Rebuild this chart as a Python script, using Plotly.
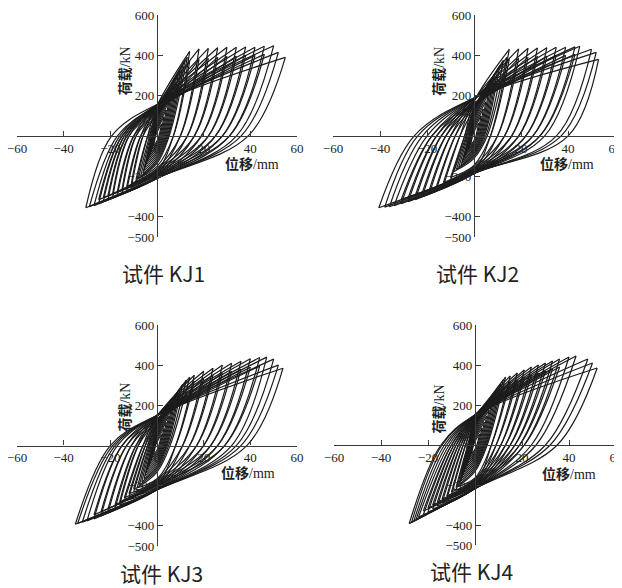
import plotly.graph_objects as go

# ---------------- data ----------------
# per cycle: positive peak (disp, load), negative peak (disp, load),
# zero-load crossings of unloading (rp) / reloading (rn) branches,
# load where reloading (cp) / unloading (cn) branch crosses zero displacement
KJ1_dp = [2, 3, 4, 5, 6, 7, 8, 9, 10, 11, 12, 13,
          14, 14, 18, 18, 22, 22, 26, 26, 30, 30, 34, 34, 38, 38, 42, 42, 46, 46, 50, 52, 55]
KJ1_pp = [60, 95, 130, 165, 200, 235, 265, 295, 325, 350, 375, 390,
          420, 370, 432, 380, 435, 385, 438, 390, 440, 395, 440, 395, 442, 400, 440, 400, 445, 405, 448, 415, 390]
KJ1_dn = [-1.5, -2, -2.5, -3, -3.5, -4, -4.5, -5, -5.5, -6, -7, -8,
          -9, -9, -11, -11, -13, -13, -15, -15, -17, -17, -19, -19, -21, -21, -23, -23, -25, -25, -27, -29, -30.5]
KJ1_pn = [-50, -65, -80, -95, -110, -125, -140, -155, -170, -185, -200, -210,
          -235, -215, -255, -235, -270, -250, -285, -265, -295, -275, -305, -285, -315, -295, -325, -305, -335, -315, -345, -350, -355]
KJ1_rp = [0.8, 1.2, 1.6, 2, 2.4, 2.8, 3.2, 3.6, 4, 4.4, 4.8, 5.2,
          7, 7, 10, 10, 13, 13, 16, 16, 19, 19, 22, 22, 25, 25, 28, 28, 31, 31, 34, 36, 39]
KJ1_rn = [-0.6, -0.8, -1, -1.2, -1.4, -1.6, -1.8, -2, -2.2, -2.4, -2.8, -3.2,
          -4, -4, -6, -6, -7, -7, -9, -9, -10, -10, -12, -12, -13, -13, -14, -14, -15, -15, -16, -17, -19.5]
KJ1_cp = [20, 30, 40, 50, 60, 70, 80, 90, 100, 110, 120, 130,
          150, 100, 150, 105, 148, 110, 150, 115, 155, 120, 152, 125, 155, 130, 152, 135, 155, 140, 155, 150, 157]
KJ1_cn = [-25, -35, -45, -55, -65, -75, -85, -95, -105, -115, -125, -135,
          -175, -150, -185, -160, -195, -165, -200, -170, -205, -175, -205, -180, -208, -185, -210, -190, -210, -195, -210, -208, -207]

KJ2_dp = [2, 3, 4, 5, 6, 7, 8, 9, 10, 11, 12.5, 14,
          15, 15, 19, 19, 23, 23, 27, 27, 31, 31, 35, 35, 39, 39, 43, 43, 45, 50, 52, 53]
KJ2_pp = [65, 100, 135, 170, 205, 240, 270, 300, 325, 350, 375, 390,
          430, 380, 432, 385, 435, 390, 437, 395, 438, 395, 440, 400, 440, 400, 442, 405, 445, 430, 415, 380]
KJ2_dn = [-1.5, -2, -2.5, -3, -3.5, -4, -4.5, -5, -5.5, -6.5, -7.5, -8.5,
          -10, -10, -13, -13, -16, -16, -19, -19, -22, -22, -25, -25, -28, -28, -31, -31, -34, -36, -38, -40.5]
KJ2_pn = [-45, -58, -70, -82, -95, -108, -120, -132, -145, -155, -165, -175,
          -220, -205, -245, -230, -265, -250, -285, -265, -300, -280, -315, -295, -325, -305, -335, -315, -345, -350, -352, -355]
KJ2_rp = [0.8, 1.2, 1.6, 2, 2.4, 2.8, 3.2, 3.6, 4, 4.4, 5, 5.6,
          7, 7, 10, 10, 13, 13, 16, 16, 19, 19, 22, 22, 25, 25, 28, 28, 30, 35, 37, 40]
KJ2_rn = [-0.6, -0.8, -1, -1.2, -1.4, -1.6, -1.8, -2, -2.2, -2.6, -3, -3.4,
          -4, -4, -6, -6, -8, -8, -10, -10, -12, -12, -14, -14, -16, -16, -18, -18, -20, -22, -24, -25.5]
KJ2_cp = [22, 33, 45, 56, 68, 80, 90, 100, 110, 120, 130, 140,
          170, 125, 175, 130, 175, 140, 180, 145, 180, 150, 185, 155, 185, 160, 185, 165, 188, 188, 188, 188]
KJ2_cn = [-22, -30, -38, -46, -54, -62, -70, -78, -86, -94, -102, -110,
          -170, -145, -175, -150, -180, -155, -182, -160, -185, -165, -185, -170, -185, -172, -185, -175, -185, -185, -185, -182]

KJ3_dp = [2, 3, 4, 5, 6, 7, 8, 9, 10, 11, 12.5, 14,
          16, 16, 20, 20, 24, 24, 28, 28, 32, 32, 36, 36, 40, 40, 44, 44, 47, 50, 52, 54]
KJ3_pp = [55, 85, 115, 145, 175, 205, 235, 260, 285, 305, 325, 340,
          350, 320, 370, 335, 385, 350, 400, 360, 410, 370, 420, 380, 432, 390, 438, 395, 440, 430, 400, 385]
KJ3_dn = [-1.5, -2, -2.5, -3, -3.5, -4, -4.5, -5, -5.5, -6.5, -7.5, -8.5,
          -10, -10, -12, -12, -14, -14, -16, -16, -18, -18, -21, -21, -24, -24, -27, -27, -30, -32, -34, -35]
KJ3_pn = [-45, -60, -75, -90, -105, -120, -135, -150, -165, -180, -195, -210,
          -230, -215, -255, -240, -275, -260, -295, -280, -315, -295, -335, -315, -350, -330, -365, -345, -375, -382, -388, -392]
KJ3_rp = [0.8, 1.2, 1.6, 2, 2.4, 2.8, 3.2, 3.6, 4, 4.4, 5, 5.6,
          8, 8, 11, 11, 14, 14, 17, 17, 20, 20, 23, 23, 26, 26, 29, 29, 32, 34, 36, 38.5]
KJ3_rn = [-0.6, -0.8, -1, -1.2, -1.4, -1.6, -1.8, -2, -2.2, -2.6, -3, -3.4,
          -4, -4, -5, -5, -6, -6, -8, -8, -9, -9, -11, -11, -13, -13, -15, -15, -17, -18, -19, -20]
KJ3_cp = [18, 27, 36, 45, 54, 63, 72, 81, 90, 100, 110, 120,
          140, 100, 145, 105, 148, 110, 150, 115, 150, 120, 150, 125, 150, 130, 150, 135, 150, 150, 150, 150]
KJ3_cn = [-22, -32, -42, -52, -62, -72, -82, -92, -102, -112, -122, -132,
          -195, -165, -205, -170, -210, -175, -215, -180, -218, -185, -220, -190, -220, -195, -220, -200, -220, -220, -220, -220]

KJ4_dp = [2, 3, 4, 5, 6, 7, 8, 9, 10, 11, 12, 13,
          15, 15, 18, 18, 21, 21, 24, 24, 27, 27, 30, 30, 33, 33, 36, 36, 40, 43, 48, 50, 52]
KJ4_pp = [55, 85, 115, 145, 175, 205, 235, 260, 285, 305, 325, 340,
          345, 315, 360, 325, 375, 340, 390, 350, 400, 360, 410, 370, 420, 380, 430, 390, 440, 445, 430, 410, 385]
KJ4_dn = [-1.5, -2, -2.5, -3, -3.5, -4, -4.5, -5, -5.5, -6, -6.5, -7,
          -8, -8, -10, -10, -12, -12, -14, -14, -16, -16, -18, -18, -20, -20, -22, -22, -24, -25, -26, -27, -28]
KJ4_pn = [-45, -60, -75, -90, -105, -120, -135, -150, -165, -180, -195, -205,
          -225, -210, -250, -235, -270, -255, -290, -270, -305, -285, -320, -300, -335, -315, -350, -330, -360, -370, -380, -387, -393]
KJ4_rp = [0.8, 1.2, 1.6, 2, 2.4, 2.8, 3.2, 3.6, 4, 4.4, 4.8, 5.2,
          7, 7, 9, 9, 11, 11, 13, 13, 15, 15, 17, 17, 19, 19, 21, 21, 24, 26, 30, 32, 35]
KJ4_rn = [-0.6, -0.8, -1, -1.2, -1.4, -1.6, -1.8, -2, -2.2, -2.4, -2.6, -2.8,
          -3, -3, -4, -4, -5, -5, -6, -6, -7, -7, -8, -8, -9, -9, -10, -10, -11, -12, -13, -14, -14.5]
KJ4_cp = [18, 27, 36, 45, 54, 63, 72, 81, 90, 100, 110, 120,
          135, 100, 140, 105, 142, 110, 145, 115, 148, 120, 148, 125, 150, 130, 150, 135, 150, 150, 150, 150, 150]
KJ4_cn = [-22, -32, -42, -52, -62, -72, -82, -92, -102, -112, -122, -132,
          -195, -165, -200, -170, -205, -175, -210, -180, -212, -185, -215, -190, -218, -195, -218, -200, -218, -218, -218, -218, -218]

titles = ["试件 KJ1", "试件 KJ2", "试件 KJ3", "试件 KJ4"]
x_ticks = [-60, -40, -20, 0, 20, 40, 60]
y_ticks = [-500, -400, -200, 0, 200, 400, 600]
x_title = "<b>位移</b>/mm"
y_title = "<b>荷载</b>/kN"

specimens = [
    (KJ1_dp, KJ1_pp, KJ1_dn, KJ1_pn, KJ1_rp, KJ1_rn, KJ1_cp, KJ1_cn),
    (KJ2_dp, KJ2_pp, KJ2_dn, KJ2_pn, KJ2_rp, KJ2_rn, KJ2_cp, KJ2_cn),
    (KJ3_dp, KJ3_pp, KJ3_dn, KJ3_pn, KJ3_rp, KJ3_rn, KJ3_cp, KJ3_cn),
    (KJ4_dp, KJ4_pp, KJ4_dn, KJ4_pn, KJ4_rp, KJ4_rn, KJ4_cp, KJ4_cn),
]

# ---------------- layout geometry (page pixels) ----------------
PAGE_OFF = 8            # default body margin of the html page
W, H = 622 - PAGE_OFF, 588 - PAGE_OFF
panels_px = [  # x_left, x_right, y_top, y_bottom (page pixels)
    (17, 297, 15, 237),
    (333, 615, 15, 237),
    (17, 297, 325, 546),
    (334, 616, 325, 545),
]
title_px = [(163, 273), (477, 273), (161, 573), (471, 571)]
ytitle_pos = [(-13.7, 321), (-14.7, 321), (-13.7, 189), (-15.3, 178)]
xtitle_pos = [(40.7, -138), (39.5, -138), (39, -138), (40, -143)]

XR = [-60, 60]
YR = [-500, 600]


def px_x(p):
    return (p - PAGE_OFF) / W


def px_y(p):
    return 1 - (p - PAGE_OFF) / H


fig = go.Figure()
layout = dict(
    width=W, height=H, margin=dict(l=0, r=0, t=0, b=0, autoexpand=False),
    paper_bgcolor="white", plot_bgcolor="rgba(0,0,0,0)",
    showlegend=False,
)
annotations = []
serif = "Liberation Serif, Noto Sans CJK SC, serif"

for k, (spec, px) in enumerate(zip(specimens, panels_px)):
    dp, pp, dn, pn, rp, rn, cp, cn = spec
    xs, ys = [], []
    for i in range(len(dp)):
        # reloading branch: negative peak -> positive peak
        xs += [dn[i], rn[i], 0, dp[i], None]
        ys += [pn[i], 0, cp[i], pp[i], None]
        # unloading branch: positive peak -> negative peak
        xs += [dp[i], rp[i], 0, dn[i], None]
        ys += [pp[i], 0, cn[i], pn[i], None]
    sfx = "" if k == 0 else str(k + 1)
    fig.add_trace(go.Scatter(
        x=xs, y=ys, mode="lines", xaxis="x" + sfx, yaxis="y" + sfx,
        line=dict(color="#1c1c1c", width=1.2, shape="spline", smoothing=1.0),
        connectgaps=False, hoverinfo="skip",
    ))
    xl, xr, yt, yb = px
    xd = [px_x(xl), px_x(xr)]
    yd = [px_y(yb), px_y(yt)]
    xpos = yd[0] + (0 - YR[0]) / (YR[1] - YR[0]) * (yd[1] - yd[0])
    ypos = xd[0] + (0 - XR[0]) / (XR[1] - XR[0]) * (xd[1] - xd[0])
    axis_common = dict(showgrid=False, zeroline=False, showline=True,
                       linecolor="#3a3a3a", linewidth=1.2, ticks="inside",
                       ticklen=5, tickwidth=1.2, tickcolor="#3a3a3a",
                       tickfont=dict(family=serif, size=13, color="#222"),
                       ticklabeloverflow="allow",
                       fixedrange=True, automargin=False)
    layout["xaxis" + sfx] = dict(domain=xd, range=XR, anchor="free", position=xpos,
                                 tickvals=x_ticks, ticktext=[f"{v}".replace("-", "−") for v in x_ticks],
                                 **axis_common)
    layout["yaxis" + sfx] = dict(domain=yd, range=YR, anchor="free", position=ypos,
                                 tickvals=y_ticks, ticktext=[f"{v}".replace("-", "−") for v in y_ticks],
                                 **axis_common)
    annotations.append(dict(x=ytitle_pos[k][0], y=ytitle_pos[k][1], xref="x" + sfx, yref="y" + sfx,
                            text=y_title, textangle=-90, showarrow=False,
                            font=dict(family=serif, size=14, color="#222")))
    annotations.append(dict(x=xtitle_pos[k][0], y=xtitle_pos[k][1], xref="x" + sfx, yref="y" + sfx,
                            text=x_title, showarrow=False,
                            font=dict(family=serif, size=14, color="#222")))
    annotations.append(dict(x=px_x(title_px[k][0]), y=px_y(title_px[k][1]), xref="paper", yref="paper",
                            text=titles[k], showarrow=False, xanchor="center", yanchor="middle",
                            font=dict(family="Noto Sans CJK SC, sans-serif", size=21, color="#222")))

layout["annotations"] = annotations
fig.update_layout(**layout)
fig.write_html("out.html")
